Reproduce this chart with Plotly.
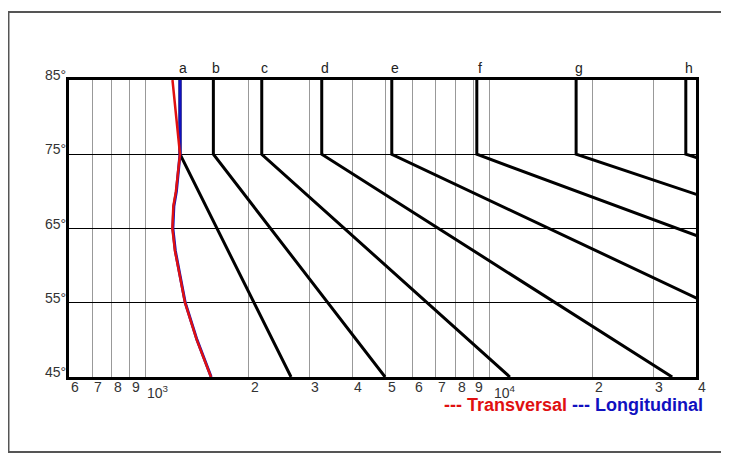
import math
import plotly.graph_objects as go

# vertical wave-length lines a..h: value at 85/75 deg and (extrapolated) value at 45 deg
line_names = ["a", "b", "c", "d", "e", "f", "g", "h"]
x_top = [1262, 1578, 2182, 3261, 5213, 9214, 17920, 37360]
x_45 = [2655, 4985, 11500, 34100, 123000, 520000, 1570000, 5360000]

# transversal / longitudinal curves
curve_deg = [85, 75, 70, 68, 65, 62, 59, 55, 50, 45]
transversal = [1200, 1262, 1228, 1207, 1199, 1220, 1256, 1305, 1412, 1553]
longitudinal = [1262, 1262, 1232, 1211, 1203, 1223, 1258, 1307, 1414, 1555]

grid_x = [700, 800, 900, 1000, 2000, 3000, 4000, 5000, 6000, 7000, 8000, 9000,
          10000, 20000, 30000]
xlab_vals = [600, 700, 800, 900, 2000, 3000, 4000, 5000, 6000, 7000, 8000, 9000,
             20000, 30000, 40000]
xlab_text = ["6", "7", "8", "9", "2", "3", "4", "5", "6", "7", "8", "9", "2", "3", "4"]
deg_ticks = [45, 55, 65, 75, 85]
x_min, x_max = 600, 40000

fig = go.Figure()

for name, xt, xb in zip(line_names, x_top, x_45):
    fig.add_trace(go.Scatter(
        x=[xt, xt, xb], y=[85, 75, 45], mode="lines",
        line=dict(color="black", width=3), showlegend=False, hoverinfo="skip"
    ))
    # annotations on a log axis take log10 positions
    fig.add_annotation(x=math.log10(xt), y=85, text=name, showarrow=False,
                       yanchor="bottom", xshift=3, yshift=2,
                       font=dict(size=14, color="#222"))

fig.add_trace(go.Scatter(x=longitudinal, y=curve_deg, mode="lines",
                         line=dict(color="#1010c0", width=3), showlegend=False))
fig.add_trace(go.Scatter(x=transversal, y=curve_deg, mode="lines",
                         line=dict(color="#e01010", width=2.5), showlegend=False))

for d in deg_ticks:
    fig.add_annotation(x=0, xref="paper", y=d, text=f"{d}°", showarrow=False,
                       xanchor="right", xshift=-1, yshift=5,
                       font=dict(size=14, color="#333"))

for v, t in zip(xlab_vals, xlab_text):
    fig.add_annotation(x=math.log10(v), y=45, text=t, showarrow=False,
                       yanchor="top", xshift=6, yshift=0,
                       font=dict(size=14, color="#333"))
for v, t, dx in [(1000, "10<sup>3</sup>", 13), (10000, "10<sup>4</sup>", 16)]:
    fig.add_annotation(x=math.log10(v), y=45, text=t, showarrow=False,
                       yanchor="top", xshift=dx, yshift=-4,
                       font=dict(size=14, color="#333"))

fig.add_annotation(
    x=1.014, xref="paper", y=-0.135, yref="paper", showarrow=False,
    xanchor="right",
    text="<b><span style='color:#e01010'>--- Transversal</span> "
         "<span style='color:#1010c0'>--- Longitudinal</span></b>",
    font=dict(size=18)
)

# outer frame
fig.add_shape(type="rect", xref="paper", yref="paper",
              x0=-0.0965, x1=1.049, y0=-0.2525, y1=1.229,
              line=dict(color="#555", width=2))

# page body has an 8px margin, so the figure is 8px smaller than the window
fig.update_layout(
    width=721, height=451,
    margin=dict(l=61, r=33, t=72, b=82),
    paper_bgcolor="white", plot_bgcolor="white",
    font=dict(family="Liberation Sans, Arial, sans-serif"),
    xaxis=dict(type="log", range=[math.log10(x_min), math.log10(x_max)],
               tickvals=grid_x,
               showticklabels=False, showgrid=True, gridcolor="#999", gridwidth=1,
               showline=True, linecolor="black", linewidth=3, mirror=True,
               zeroline=False, ticks=""),
    yaxis=dict(range=[45, 85], tickvals=deg_ticks, showticklabels=False,
               showgrid=True, gridcolor="black", gridwidth=1,
               showline=True, linecolor="black", linewidth=3, mirror=True,
               zeroline=False, ticks=""),
)

fig.write_html("out.html")
